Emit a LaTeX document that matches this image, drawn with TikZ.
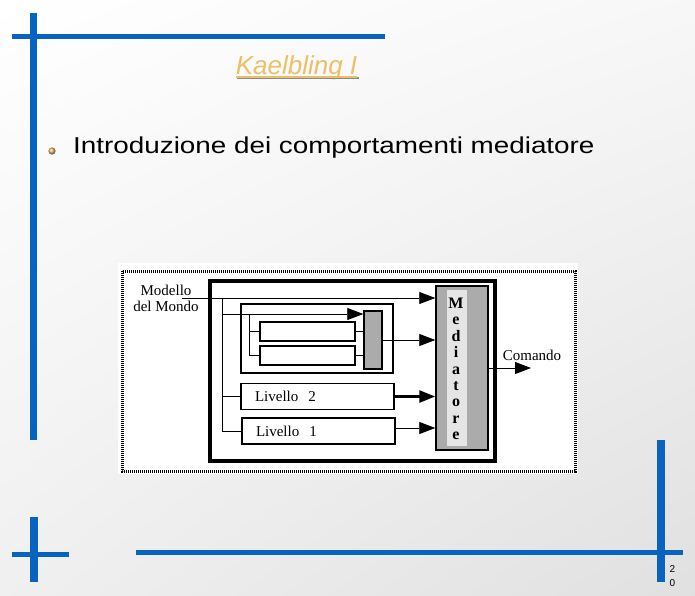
\documentclass[tikz,border=0pt]{standalone}
\usepackage{fontspec}
\setmainfont{Liberation Sans}
\newfontfamily\serifdiag{Liberation Serif}
\newfontfamily\slidefont[FakeStretch=1.21]{Liberation Sans}
\usetikzlibrary{arrows.meta,shadings}
\definecolor{blu}{RGB}{8,98,192}
\definecolor{oro}{RGB}{236,192,104}
\tikzset{
  barra/.style={blu, line width=7.5pt},
  barrah/.style={blu, line width=4.5pt},
  scatola/.style={draw, line width=2pt, inner sep=0pt},
  livello/.style={draw, line width=1.6pt, minimum height=26pt, text width=125pt, inner xsep=14pt, align=left, font=\serifdiag\fontsize{15}{16}\selectfont},
  punti/.style={draw, line width=1.5pt, fill=black!33, inner sep=0pt},
  fl/.style={-{Triangle[length=16pt,width=12pt]}, line width=0.8pt},
  et/.style={font=\serifdiag\fontsize{15}{16}\selectfont, align=center, inner sep=0pt},
}

\begin{document}
\begin{tikzpicture}[x=1pt, y=-1pt]
  \shade[upper left=white, upper right=black!3, lower left=black!6, lower right=black!12] (0,0) rectangle (695,595);
  \useasboundingbox (0,0) rectangle (695,595);
  % slide frame
  \draw[barra] (33.5,13) -- (33.5,440);
  \draw[barrah] (12,36.5) -- (385,36.5);
  \draw[barra] (34,517) -- (34,582);
  \draw[barrah] (12,554.5) -- (69,554.5);
  \draw[barrah] (136,552.5) -- (683,552.5);
  \draw[barra] (661,440) -- (661,582);
  \node[font=\fontsize{10}{14}\selectfont, align=center, inner sep=0pt] (pag) at (672.5,576) {2\\0};
  % title and bullet
  \node[font=\itshape\fontsize{26}{30}\selectfont, text=oro, anchor=base, inner sep=0pt] (tit) at (296.5,74) {Kaelbling I};
  \draw[black!45, line width=1.8pt] ([shift={(1.2pt,-4.2pt)}]tit.base west) -- ([shift={(1.2pt,-4.2pt)}]tit.base east);
  \draw[oro, line width=1.8pt] ([yshift=-3pt]tit.base west) -- ([yshift=-3pt]tit.base east);
  \shade[ball color=oro!85!brown] (52,151) circle (3.6);
  \node[font=\slidefont\fontsize{23}{28}\selectfont, anchor=base west, inner sep=0pt] (intro) at (73,153.5) {Introduzione dei comportamenti mediatore};
  % diagram
  \fill[white] (118,263) rectangle (578,474);
  \draw[dash pattern=on 1.2pt off 0.8pt, line width=3pt] (122,271) rectangle (575,471);
  \node[draw, line width=3.5pt, minimum width=285pt, minimum height=180pt] (ctrl) at (352.5,371) {};
  \node[punti, minimum width=52pt, minimum height=164pt] (med) at (462,368) {};
  \node[fill=black!10, minimum width=20pt, minimum height=156pt, inner sep=0pt] (strip) at (457,368) {};
  \node[font=\serifdiag\bfseries\fontsize{16}{16.4}\selectfont, align=center, inner sep=0pt] (medtxt) at (456,369) {M\\e\\d\\i\\a\\t\\o\\r\\e};
  \node[scatola, minimum width=152pt, minimum height=69pt] (grp) at (317,338.5) {};
  \node[punti, minimum width=18pt, minimum height=58pt] (sel) at (373,340) {};
  \node[scatola, minimum width=95pt, minimum height=19pt] (b1) at (307.5,331.5) {};
  \node[scatola, minimum width=95pt, minimum height=19pt] (b2) at (307.5,355.5) {};
  \node[livello] (liv2) at (317.5,396.5) {Livello\ \ 2};
  \node[livello] (liv1) at (318.5,431) {Livello\ \ 1};
  \node[et] (mondo) at (166,298.5) {Modello\\del Mondo};
  \node[et, anchor=base] (com) at (532,360.5) {Comando};
  \coordinate (mm) at (182,298);
  \coordinate (j) at (222,298);
  \coordinate (k) at (249,314);
  \coordinate (o1) at ([yshift=3pt]liv1.east);
  \coordinate (out) at (531,368);
  \draw[fl] (mm) -- (med.west |- mm);
  \draw (j) |- (liv1.west);
  \draw (j |- liv2.west) -- (liv2.west);
  \draw[fl] (j |- k) -- (sel.west |- k);
  \draw (k) |- (b2.west);
  \draw (k |- b1.west) -- (b1.west);
  \draw (b1.east) -- (sel.west |- b1.east);
  \draw (b2.east) -- (sel.west |- b2.east);
  \draw[fl] (sel.east) -- (med.west |- sel.east);
  \draw[fl, line width=2.5pt] (liv2.east) -- (med.west |- liv2.east);
  \draw[fl] (o1) -- (med.west |- o1);
  \draw[fl] (med.east |- out) -- (out);
\end{tikzpicture}
\end{document}
